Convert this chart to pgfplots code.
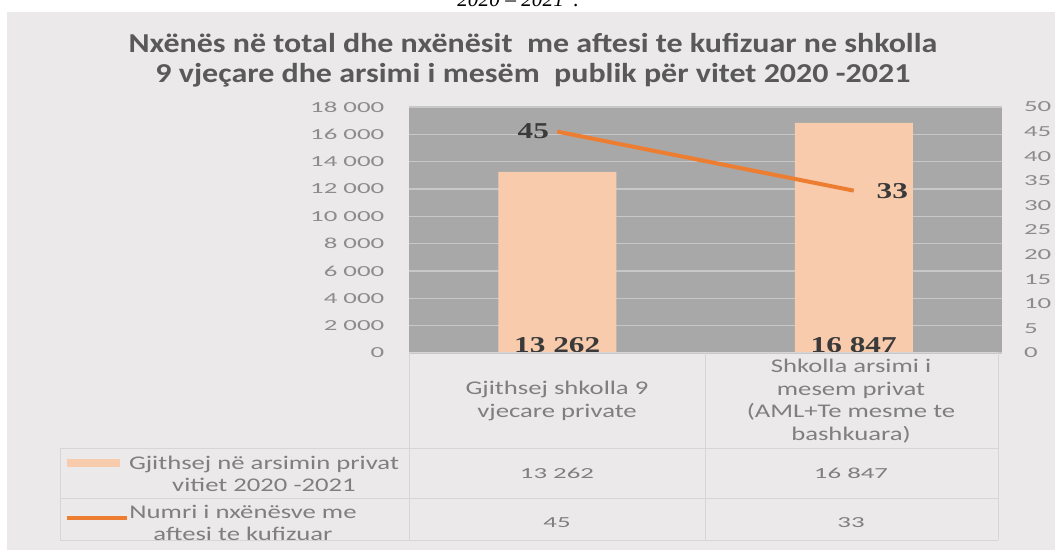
\documentclass[border=0pt]{standalone}
\usepackage{fontspec}
\setmainfont{Carlito}
\usepackage{pgfplots}
\pgfplotsset{compat=1.18}
\newfontfamily\tickfont[FakeStretch=1.75]{Carlito}
\newfontfamily\tabfont[FakeStretch=1.38]{Carlito}
\newfontfamily\titlefont[FakeStretch=1.17]{Carlito}
\newfontfamily\lblfont[FakeStretch=1.38]{Liberation Serif}
\newfontfamily\capfont{Liberation Serif}
\definecolor{chartbg}{HTML}{EBE9E9}
\definecolor{plotbg}{HTML}{A9A8A8}
\definecolor{gridcol}{HTML}{C8C8C8}
\definecolor{barcol}{HTML}{F8CBAD}
\definecolor{linecol}{HTML}{ED7D31}
\definecolor{titlecol}{HTML}{595959}
\definecolor{tickcol}{HTML}{8C8C8C}
\definecolor{tabcol}{HTML}{7F7F7F}
\definecolor{tabline}{HTML}{D6D6D6}
\definecolor{lblcol}{HTML}{3A3A3A}
\begin{document}
\begin{tikzpicture}[x=0.75pt,y=0.75pt]
\useasboundingbox (0,0) rectangle (1060,550);
\fill[chartbg] (7,0) rectangle (1055,538);
\node[anchor=base west, font=\capfont\itshape\fontsize{16}{18}\selectfont, inner sep=0pt] at (457,543) {2020 – 2021\kern2pt’.};
\node[align=center, font=\titlefont\bfseries\fontsize{20.5}{22.5}\selectfont, text=titlecol] at (533,490)
  {Nxënës në total dhe nxënësit\ \ me aftesi te kufizuar ne shkolla\\9 vjeçare dhe arsimi i mesëm\ \ publik për vitet 2020 -2021};

\begin{axis}[at={(306.75pt,147.75pt)}, anchor=south west, scale only axis,
  width=444.75pt, height=184.5pt,
  xmin=-0.5, xmax=1.5, ymin=0, ymax=18000,
  ytick={0,2000,...,18000}, xtick=\empty,
  scaled y ticks=false,
  /pgf/number format/1000 sep={\ },
  /pgf/number format/assume math mode=true,
  axis line style={draw=none}, tick style={draw=none},
  ymajorgrids, grid style={gridcol, line width=1pt},
  axis background/.style={fill=plotbg},
  yticklabel style={font=\tickfont\fontsize{11.5}{12}\selectfont, text=tickcol, xshift=-15pt},
  clip=false]
\addplot[ybar, bar width=88.5pt, fill=barcol, draw=none] coordinates {(0,13262) (1,16847)};
\addplot[draw=none, mark=none, nodes near coords, point meta=explicit symbolic,
  every node near coord/.append style={anchor=base, inner sep=0pt, yshift=0.5pt,
    font=\lblfont\bfseries\fontsize{17}{18}\selectfont, text=lblcol}]
  coordinates {(0,0) [13\ 262] (1,0) [16\ 847]};
\end{axis}

\begin{axis}[at={(306.75pt,147.75pt)}, anchor=south west, scale only axis,
  width=444.75pt, height=184.5pt,
  xmin=-0.5, xmax=1.5, ymin=0, ymax=50,
  ytick={0,5,...,50}, xtick=\empty, yticklabel pos=right,
  /pgf/number format/assume math mode=true,
  axis line style={draw=none}, tick style={draw=none},
  yticklabel style={font=\tickfont\fontsize{11.5}{12}\selectfont, text=tickcol, xshift=13pt, anchor=west},
  clip=false]
\addplot[linecol, line width=3pt, mark=none] coordinates {(0,45) (1,33)};
\addplot[draw=none, mark=none, nodes near coords, point meta=explicit symbolic,
  every node near coord/.append style={anchor=east, inner sep=0pt, xshift=-6pt,
    font=\lblfont\bfseries\fontsize{17}{18}\selectfont, text=lblcol}]
  coordinates {(0,45) [45]};
\addplot[draw=none, mark=none, nodes near coords, point meta=explicit symbolic,
  every node near coord/.append style={anchor=west, inner sep=0pt, xshift=17pt,
    font=\lblfont\bfseries\fontsize{17}{18}\selectfont, text=lblcol}]
  coordinates {(1,33) [33]};
\end{axis}

% data table
\draw[tabline, line width=0.75pt] (409,197) -- (998,197);
\draw[tabline, line width=0.75pt] (60,102) -- (998,102);
\draw[tabline, line width=0.75pt] (60,52) -- (998,52);
\draw[tabline, line width=0.75pt] (60,10) -- (998,10);
\draw[tabline, line width=0.75pt] (60,102) -- (60,10);
\draw[tabline, line width=0.75pt] (409,197) -- (409,10);
\draw[tabline, line width=0.75pt] (705,197) -- (705,10);
\draw[tabline, line width=0.75pt] (998,197) -- (998,10);

\begin{scope}[every node/.style={font=\tabfont\fontsize{14.5}{17}\selectfont, text=tabcol, align=center}]
\node at (557,149) {Gjithsej shkolla 9\\vjecare private};
\node at (851,149) {Shkolla arsimi i\\mesem privat\\(AML+Te mesme te\\bashkuara)};
\node at (264,76) {Gjithsej në arsimin privat\\vitiet 2020 -2021};
\node at (243,27) {Numri i nxënësve me\\aftesi te kufizuar};
\end{scope}
\begin{scope}[every node/.style={font=\tickfont\fontsize{11.5}{12}\selectfont, text=tabcol}]
\node at (557,77) {13\ 262};
\node at (851,77) {16\ 847};
\node at (557,27) {45};
\node at (851,27) {33};
\end{scope}
\fill[barcol] (67,83) rectangle (120,91);
\draw[linecol, line width=2.5pt] (67,32) -- (127,32);
\end{tikzpicture}
\end{document}
